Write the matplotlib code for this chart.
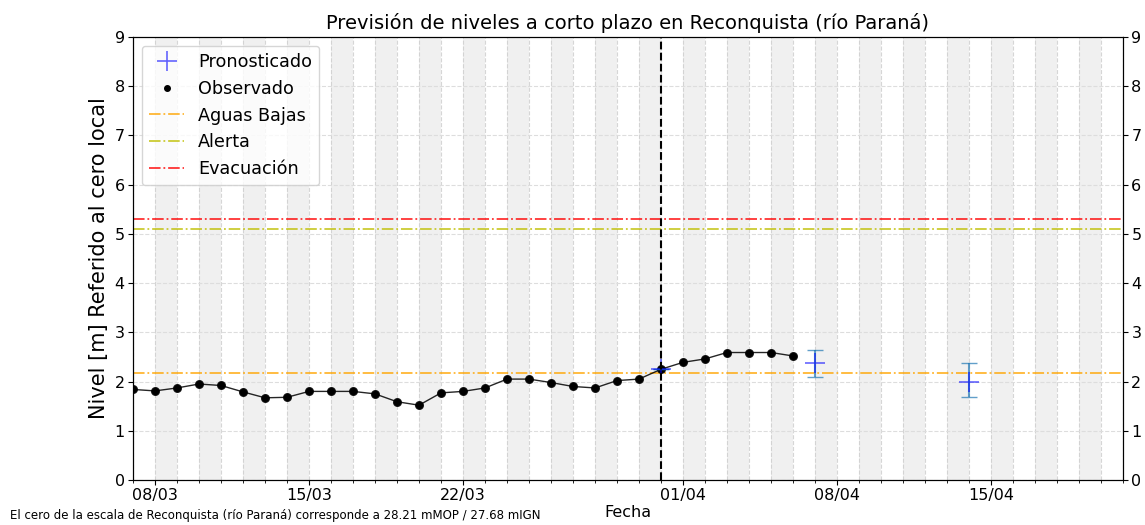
import numpy as np
import pandas as pd
import matplotlib
matplotlib.use("Agg")
import matplotlib.pyplot as plt
import matplotlib.dates as mdates

# Observed daily levels (m), 07/03 .. 06/04
obs_dates = pd.date_range("2024-03-07", "2024-04-06", freq="D")
obs_values = [1.84, 1.81, 1.87, 1.95, 1.92, 1.79, 1.67, 1.68, 1.80, 1.80,
              1.80, 1.75, 1.59, 1.52, 1.77, 1.80, 1.87, 2.05, 2.05, 1.98,
              1.90, 1.87, 2.02, 2.05, 2.25, 2.39, 2.46, 2.59, 2.59, 2.59,
              2.52]

# Forecast
fc_dates = pd.to_datetime(["2024-03-31", "2024-04-07", "2024-04-14"])
fc_values = [2.25, 2.38, 2.00]
fc_low = [2.25, 2.10, 1.69]
fc_high = [2.25, 2.65, 2.38]

# Reference levels
aguas_bajas = 2.18
alerta = 5.10
evacuacion = 5.30

forecast_date = pd.Timestamp("2024-03-31")
x_start = pd.Timestamp("2024-03-07")
x_end = pd.Timestamp("2024-04-21")

fig = plt.figure(figsize=(11.45, 5.25), dpi=100)
ax = fig.add_axes([133 / 1145, 45 / 525, 990 / 1145, 443 / 525])

# alternate-day shading
days = pd.date_range(x_start, x_end, freq="D")
for i in range(1, len(days) - 1, 2):
    ax.axvspan(days[i], days[i + 1], color="#f0f0f0", zorder=0, lw=0)

ax.axhline(aguas_bajas, color="orange", ls="-.", lw=1.3, alpha=0.8, label="Aguas Bajas")
ax.axhline(alerta, color="y", ls="-.", lw=1.3, alpha=0.8, label="Alerta")
ax.axhline(evacuacion, color="r", ls="-.", lw=1.3, alpha=0.8, label="Evacuación")

err = [np.array(fc_values) - np.array(fc_low), np.array(fc_high) - np.array(fc_values)]
ax.errorbar(fc_dates, fc_values, yerr=err, fmt="none", ecolor="tab:blue",
            elinewidth=1.5, capsize=6, alpha=0.7, zorder=4)
ax.plot(fc_dates, fc_values, "+", color="blue", ms=15, mew=1.2, alpha=0.6,
        label="Pronosticado", zorder=5)

ax.plot(obs_dates, obs_values, "-o", color="black", ms=5.5, lw=1, alpha=0.85,
        zorder=3)
ax.plot(obs_dates, obs_values, ".", color="black", ms=8, label="Observado", zorder=2)

ax.axvline(forecast_date, color="black", ls="--", lw=1.5, zorder=6)

ax.set_xlim(x_start, x_end)
ax.set_ylim(0, 9)
ax.xaxis.set_major_locator(mdates.DayLocator(bymonthday=[1, 8, 15, 22]))
ax.xaxis.set_major_formatter(mdates.DateFormatter("%d/%m"))
ax.xaxis.set_minor_locator(mdates.DayLocator())
ax.grid(which="both", axis="x", ls="--", color="#cccccc", lw=0.8, alpha=0.8)
ax.grid(which="major", axis="y", ls="--", color="#dddddd", lw=0.8)
ax.tick_params(labelsize=11.5, pad=2.5)

ax2 = ax.twinx()
ax2.set_ylim(0, 9)
ax2.tick_params(labelsize=11.5, pad=2.5)

ax.set_title("Previsión de niveles a corto plazo en Reconquista (río Paraná)", fontsize=14)
ax.set_ylabel("Nivel [m] Referido al cero local", fontsize=15)
ax.set_xlabel("Fecha", fontsize=11.5, labelpad=1)

handles, labels = ax.get_legend_handles_labels()
order = ["Pronosticado", "Observado", "Aguas Bajas", "Alerta", "Evacuación"]
hmap = dict(zip(labels, handles))
ax.legend([hmap[k] for k in order], order, loc="upper left", fontsize=12.7,
          framealpha=0.8)

fig.text(0.009, 0.012,
         "El cero de la escala de Reconquista (río Paraná) corresponde a 28.21 mMOP / 27.68 mIGN",
         fontsize=8.5)

fig.savefig("out.png", dpi=100)
